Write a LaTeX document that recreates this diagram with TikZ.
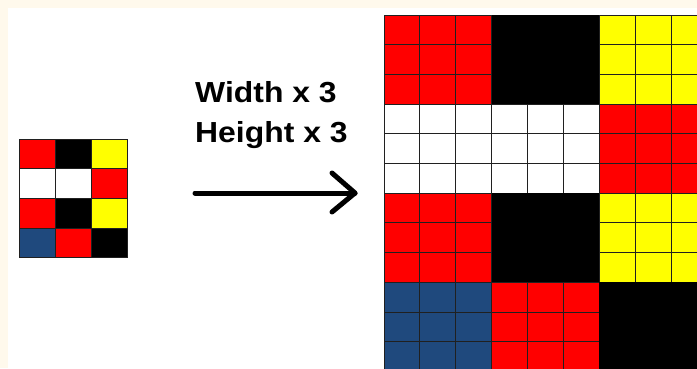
\documentclass[tikz,border=0pt]{standalone}
\usepackage{fontspec}
\setmainfont{Liberation Sans}
\definecolor{cream}{HTML}{FFF9EC}
\definecolor{cblue}{HTML}{1F497D}
\definecolor{cred}{HTML}{FF0000}
\definecolor{cyel}{HTML}{FFFF00}
\definecolor{gline}{HTML}{202020}
\tikzset{
  cellbox/.style={draw=gline, line width=0.9pt},
  label text/.style={anchor=base west, inner sep=0pt, font=\bfseries\fontsize{29}{29}\selectfont},
  arrowline/.style={line width=5pt, line cap=round, line join=round}
}
\begin{document}
\begin{tikzpicture}[x=1pt,y=-1pt]
\useasboundingbox (0,0) rectangle (697,368);
\clip (0,0) rectangle (697,368);
\fill[cream] (0,0) rectangle (697,368);
\fill[white] (8,8) rectangle (697,368);
\foreach \col [count=\i from 0] in {cred,black,cyel,white,white,cred,cred,black,cyel,cblue,cred,black} {
  \pgfmathtruncatemacro\r{int(\i/3)}
  \pgfmathtruncatemacro\c{mod(\i,3)}
  \fill[\col, cellbox] (19+36*\c, 139+29.7*\r) rectangle ++(36,29.7);
  \foreach \a in {0,1,2} {
    \foreach \b in {0,1,2} {
      \fill[\col, cellbox] (384+35.9*3*\c+35.9*\a, 15+29.7*3*\r+29.7*\b) rectangle ++(35.9,29.7);
    }
  }
}
% solid black blocks (no visible inner lines)
\foreach \c/\r in {1/0,1/2,2/3} {
  \fill[black] (384+107.7*\c, 15+89.1*\r) rectangle ++(107.7,89.1);
}
\draw[gline, line width=1pt] (19,139) rectangle (127,257.8);
\node[label text] (t1) at (195,102) {\scalebox{1.1}[1]{Width x 3}};
\node[label text] (t2) at (195,142) {\scalebox{1.1}[1]{Height x 3}};
\coordinate (a0) at (195,193);
\coordinate (a1) at (355,193);
\coordinate (h1) at (332,173);
\coordinate (h2) at (332,212);
\draw[arrowline] (a0) -- (a1);
\draw[arrowline] (h1) -- (a1) -- (h2);
\end{tikzpicture}
\end{document}
